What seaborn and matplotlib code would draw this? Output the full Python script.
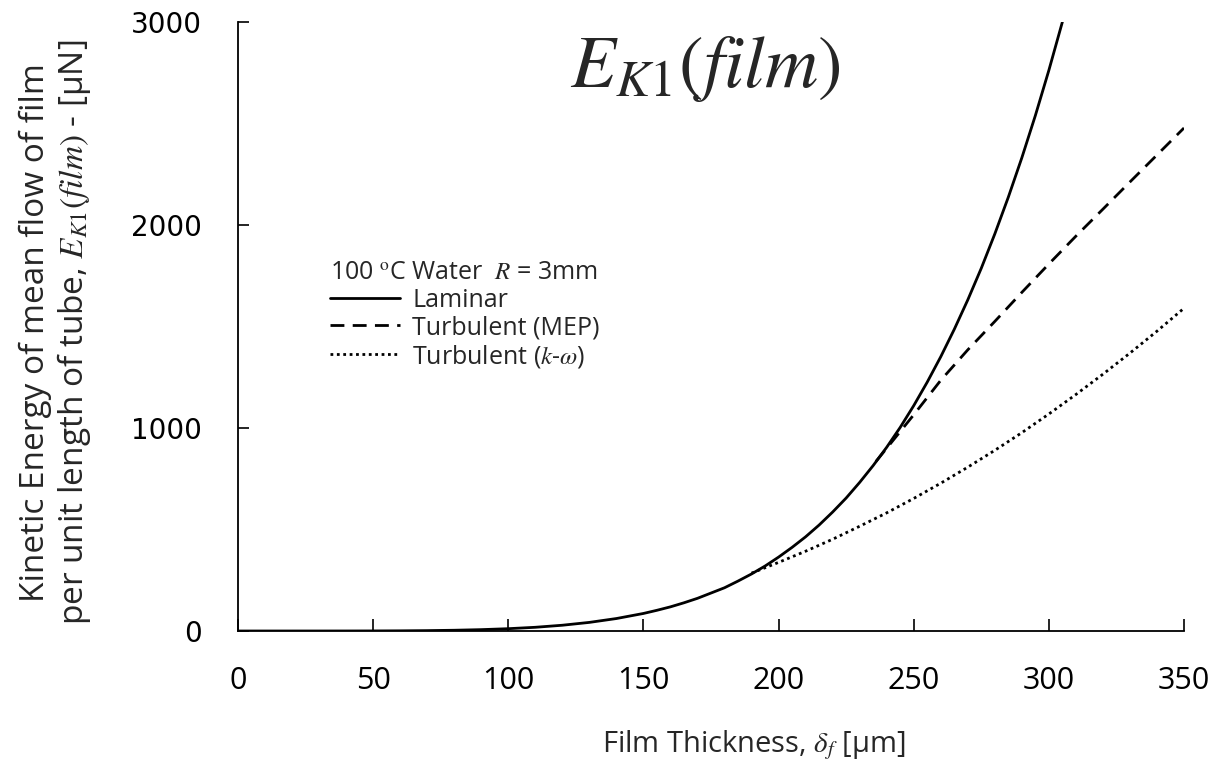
import numpy as np
import pandas as pd
import matplotlib
matplotlib.use("Agg")
import matplotlib.pyplot as plt
import seaborn as sns

# ---- data ----
lam_x = [0, 10, 20, 30, 40, 50, 60, 70, 80, 90, 100, 110, 120, 130, 140, 150, 155,
         160, 165, 170, 175, 180, 185, 190, 195, 200, 205, 210, 215, 220, 225, 230,
         235, 240, 245, 250, 255, 260, 265, 270, 275, 280, 285, 290, 295, 300, 305]
lam_y = [0, 0.0, 0.004, 0.03, 0.12, 0.36, 0.88, 1.9, 3.7, 6.7, 11.4, 18.3, 28.4,
         42.4, 61.4, 86.4, 102, 119, 139, 161, 187, 213, 246, 281, 320, 364, 412,
         464, 522, 586, 655, 732, 815, 905, 1003, 1110, 1226, 1351, 1486, 1631,
         1787, 1956, 2137, 2331, 2539, 2762, 3000]

mep_x = [236, 240, 250, 260, 270, 280, 290, 300, 310, 320, 330, 340, 350]
mep_y = [835, 900, 1065, 1235, 1385, 1525, 1668, 1808, 1945, 2078, 2212, 2345, 2478]

kw_x = [190, 200, 210, 220, 230, 240, 250, 260, 270, 280, 290, 300, 310, 320,
        330, 340, 350]
kw_y = [285, 338, 393, 452, 516, 582, 653, 728, 807, 890, 977, 1069, 1165, 1265,
        1369, 1477, 1590]

series_names = ["Laminar", "Turbulent (MEP)", "Turbulent ($k$-$\\omega$)"]
x_ticks = [0, 50, 100, 150, 200, 250, 300, 350]
y_ticks = [0, 1000, 2000, 3000]

# ---- style ----
sns.set_style("ticks")
plt.rcParams["font.family"] = ["Open Sans", "DejaVu Sans"]
plt.rcParams["mathtext.fontset"] = "stix"

fig = plt.figure(figsize=(12.22, 7.75), dpi=100)
ax = fig.add_axes([238 / 1222, 1 - 631 / 775, (1184 - 238) / 1222, (631 - 22) / 775])

df_lam = pd.DataFrame({"x": lam_x, "y": lam_y})
df_mep = pd.DataFrame({"x": mep_x, "y": mep_y})
df_kw = pd.DataFrame({"x": kw_x, "y": kw_y})

lw = 2.0
sns.lineplot(data=df_lam, x="x", y="y", ax=ax, color="black", lw=lw,
             label=series_names[0], sort=False)
sns.lineplot(data=df_mep, x="x", y="y", ax=ax, color="black", lw=lw,
             linestyle=(0, (5, 3)), label=series_names[1], sort=False)
sns.lineplot(data=df_kw, x="x", y="y", ax=ax, color="black", lw=lw,
             linestyle=(0, (1, 1.3)), label=series_names[2], sort=False)

ax.set_xlim(0, 350)
ax.set_ylim(0, 3000)
ax.set_xticks(x_ticks)
ax.set_yticks(y_ticks)
ax.set_xticklabels([str(v) for v in x_ticks], fontsize=22)
ax.set_yticklabels([str(v) for v in y_ticks], fontsize=20, family="DejaVu Sans")
ax.tick_params(axis="x", direction="in", length=9, width=1.2, pad=25, colors="black")
ax.tick_params(axis="y", direction="in", length=8, width=1.2, pad=26, colors="black")
for s in ["top", "right"]:
    ax.spines[s].set_visible(False)
for s in ["left", "bottom"]:
    ax.spines[s].set_linewidth(1.3)
    ax.spines[s].set_color("black")

ax.set_xlabel("Film Thickness, $\\delta_f$ [μm]", fontsize=21)
ax.xaxis.set_label_coords(0.545, -0.188)
ax.xaxis.label.set_va("center")

ax.set_ylabel("Kinetic Energy of mean flow of film\n"
              "per unit length of tube, $E_{K1}(film)$ - [μN]",
              fontsize=24, linespacing=1.12)
ax.yaxis.set_label_coords(-0.1924, 0.49)
ax.yaxis.label.set_va("center")

ax.text(0.494, 0.925, "$E_{K1}(film)$", transform=ax.transAxes,
        fontsize=53, ha="center", va="center")

leg = ax.legend(loc="upper left", bbox_to_anchor=(0.097, 0.609), frameon=False,
                fontsize=18, title="100 $^{\\mathrm{o}}$C Water  $R$ = 3mm",
                title_fontsize=18, handlelength=2.8, handletextpad=0.5,
                labelspacing=0.1, borderaxespad=0, borderpad=0)
leg._legend_box.align = "left"

fig.savefig("out.png", dpi=100)
